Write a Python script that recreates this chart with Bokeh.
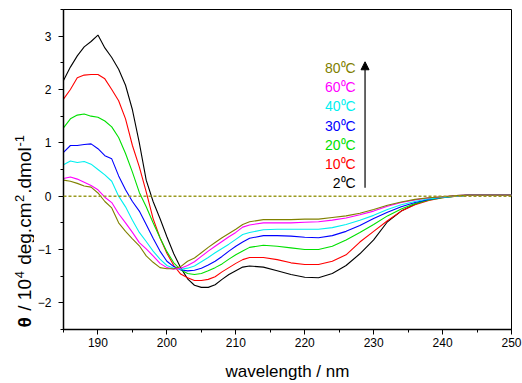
import numpy as np
from bokeh.plotting import figure
from bokeh.layouts import row
from bokeh.models import (ColumnDataSource, Span, Arrow, NormalHead,
                          SingleIntervalTicker, Range1d)
from bokeh.core.properties import value
from bokeh.embed import file_html
from bokeh.resources import INLINE

FONT = "Liberation Sans"

wavelength = [185, 186, 187, 188, 189, 190, 191, 192, 193, 194, 195, 196, 197, 198, 199,
              200, 201, 202, 203, 204, 205, 206, 207, 208, 209, 210, 211, 212, 214, 216,
              218, 220, 222, 224, 226, 228, 230, 232, 234, 236, 238, 240, 242, 244, 246,
              248, 250]

t2 = [2.17, 2.42, 2.63, 2.80, 2.90, 3.02, 2.78, 2.60, 2.38, 2.08, 1.62, 1.00, 0.30, -0.10, -0.42,
      -0.76, -1.08, -1.34, -1.55, -1.67, -1.71, -1.71, -1.66, -1.56, -1.47, -1.40, -1.33, -1.31, -1.33, -1.40,
      -1.47, -1.52, -1.53, -1.45, -1.30, -1.08, -0.82, -0.48, -0.28, -0.15, -0.06, -0.02, 0.01, 0.02, 0.02,
      0.02, 0.02]
t10 = [1.82, 2.00, 2.22, 2.27, 2.28, 2.28, 2.20, 2.00, 1.79, 1.45, 0.95, 0.55, 0.08, -0.42, -0.78,
       -1.07, -1.30, -1.46, -1.53, -1.58, -1.58, -1.56, -1.51, -1.42, -1.34, -1.26, -1.19, -1.15, -1.15, -1.19,
       -1.25, -1.28, -1.28, -1.22, -1.10, -0.86, -0.66, -0.46, -0.28, -0.16, -0.08, -0.03, 0.00, 0.02, 0.02,
       0.02, 0.02]
t20 = [1.28, 1.45, 1.52, 1.54, 1.50, 1.48, 1.41, 1.30, 1.10, 0.80, 0.45, 0.07, -0.20, -0.50, -0.78,
       -1.04, -1.25, -1.38, -1.45, -1.47, -1.45, -1.40, -1.34, -1.27, -1.18, -1.10, -1.03, -0.96, -0.92, -0.94,
       -0.97, -1.00, -1.00, -0.94, -0.82, -0.68, -0.53, -0.37, -0.24, -0.14, -0.07, -0.03, 0.00, 0.02, 0.02,
       0.02, 0.02]
t30 = [0.82, 0.95, 0.95, 0.97, 0.98, 0.89, 0.76, 0.70, 0.38, 0.12, -0.10, -0.28, -0.53, -0.79, -1.03,
       -1.22, -1.32, -1.38, -1.40, -1.39, -1.35, -1.29, -1.22, -1.13, -1.03, -0.94, -0.86, -0.79, -0.74, -0.74,
       -0.75, -0.77, -0.78, -0.74, -0.66, -0.55, -0.42, -0.30, -0.20, -0.12, -0.06, -0.02, 0.00, 0.02, 0.02,
       0.02, 0.02]
t40 = [0.59, 0.66, 0.63, 0.65, 0.60, 0.50, 0.40, 0.28, 0.00, -0.20, -0.45, -0.68, -0.85, -1.03, -1.18,
       -1.30, -1.35, -1.37, -1.35, -1.31, -1.23, -1.15, -1.06, -0.98, -0.90, -0.81, -0.72, -0.68, -0.63, -0.62,
       -0.62, -0.62, -0.62, -0.59, -0.53, -0.45, -0.36, -0.25, -0.16, -0.10, -0.05, -0.02, 0.00, 0.02, 0.02,
       0.02, 0.02]
t60 = [0.33, 0.36, 0.32, 0.26, 0.20, 0.12, -0.02, -0.12, -0.33, -0.50, -0.68, -0.87, -0.99, -1.12, -1.26,
       -1.34, -1.37, -1.35, -1.30, -1.23, -1.13, -1.03, -0.94, -0.85, -0.76, -0.68, -0.58, -0.54, -0.50, -0.50,
       -0.50, -0.49, -0.48, -0.45, -0.41, -0.35, -0.28, -0.19, -0.12, -0.07, -0.03, -0.01, 0.01, 0.02, 0.02,
       0.02, 0.02]
t80 = [0.30, 0.28, 0.24, 0.19, 0.17, 0.06, -0.10, -0.22, -0.50, -0.66, -0.80, -0.93, -1.12, -1.24, -1.34,
       -1.36, -1.36, -1.32, -1.22, -1.16, -1.06, -0.96, -0.87, -0.78, -0.70, -0.62, -0.53, -0.48, -0.44, -0.44,
       -0.44, -0.43, -0.43, -0.40, -0.37, -0.32, -0.25, -0.17, -0.11, -0.06, -0.03, -0.01, 0.01, 0.02, 0.02,
       0.02, 0.02]

series = [t2, t10, t20, t30, t40, t60, t80]
labels = ["2\u2070C", "10\u2070C", "20\u2070C", "30\u2070C", "40\u2070C", "60\u2070C", "80\u2070C"]
colors = ["#000000", "#FF0000", "#00E000", "#0000FF", "#00F0F0", "#FF00FF", "#808000"]

# y-axis title pieces: (text, is_superscript, is_bold); a leading space means a gap
ylabel_parts = [("\u03b8", False, True), (" / 10", False, False), ("4", True, False),
                (" deg.cm", False, False), ("2", True, False), (".dmol", False, False),
                ("-1", True, False)]
xlabel = "wavelength / nm"

LEFT_W = 34
p = figure(width=522 - LEFT_W, height=383, output_backend="svg", toolbar_location=None,
           x_range=Range1d(185, 250), y_range=Range1d(-2.5, 3.5),
           min_border_left=63 - LEFT_W, min_border_right=11, min_border_top=9, min_border_bottom=52)
p.background_fill_color = "white"
p.border_fill_color = "white"
p.outline_line_color = "black"
p.outline_line_width = 1
p.xgrid.visible = False
p.ygrid.visible = False

# zero line
p.add_layout(Span(location=0, dimension="width", line_color="#9A9A20",
                  line_dash="3 2", line_width=1.5))

for ys, c in zip(series, colors):
    p.line(wavelength, ys, line_color=c, line_width=1.1)

for ax in (p.xaxis[0], p.yaxis[0]):
    ax.axis_line_width = 1.5
    ax.axis_line_color = "black"
    ax.major_tick_line_color = "black"
    ax.minor_tick_line_color = "black"
    ax.major_tick_in = 0
    ax.major_tick_out = 5
    ax.minor_tick_in = 0
    ax.minor_tick_out = 3
    ax.major_label_text_font = FONT
    ax.major_label_text_font_size = "12px"
    ax.major_label_text_color = "black"

p.xaxis.ticker = SingleIntervalTicker(interval=10, num_minor_ticks=2)
p.yaxis.ticker = SingleIntervalTicker(interval=1, num_minor_ticks=2)
p.yaxis.major_label_standoff = 7
p.xaxis.major_label_standoff = 3

p.xaxis.axis_label = xlabel
p.xaxis.axis_label_text_font = FONT
p.xaxis.axis_label_text_font_size = "17px"
p.xaxis.axis_label_text_font_style = "normal"
p.xaxis.axis_label_text_color = "black"
p.xaxis.axis_label_standoff = 12

# legend texts
leg_y = [0.25 + i * 0.358 for i in range(len(labels))]
src = ColumnDataSource(dict(x=[227.4] * len(labels), y=leg_y, t=labels, c=colors))
p.text(x="x", y="y", text="t", text_color="c", source=src, text_align="right",
       text_baseline="middle", text_font=value(FONT), text_font_size="14px")

p.add_layout(Arrow(end=NormalHead(size=8, fill_color="black", line_color="black"),
                   x_start=228.75, y_start=0.16, x_end=228.75, y_end=2.52,
                   line_color="black", line_width=1.2))

# left strip holding the rotated y-axis title; its frame is aligned with p's frame
# (page rows 9..331), so the range is set up so that one unit = one page pixel.
lf = figure(width=LEFT_W, height=383, output_backend="svg", toolbar_location=None,
            x_range=Range1d(0, LEFT_W), y_range=Range1d(331, 9), title=None,
            x_axis_location=None, y_axis_location=None, min_border=0)
lf.outline_line_color = None
lf.xgrid.visible = False
lf.ygrid.visible = False
lf.background_fill_color = "white"
lf.border_fill_color = "white"

MAIN_PX, SUP_PX = 19, 13
# approximate advance widths (em) for Liberation Sans
adv = {" ": 0.278, "/": 0.278, "1": 0.556, "0": 0.556, "4": 0.556, "2": 0.556, "d": 0.556,
       "e": 0.556, "g": 0.556, ".": 0.278, "c": 0.5, "m": 0.833, "o": 0.556, "l": 0.222,
       "-": 0.333, "\u03b8": 0.61}
pos = 329.0
for txt, sup, bold in ylabel_parts:
    size = SUP_PX if sup else MAIN_PX
    if txt.startswith(" "):
        pos -= adv[" "] * MAIN_PX
        txt = txt[1:]
    w = sum(adv.get(ch, 0.55) for ch in txt) * size
    if sup:
        pos -= 1.0
    lf.text(x=[19 if sup else 24], y=[pos], text=[txt], angle=np.pi / 2, text_align="left",
            text_baseline="middle", text_font=value(FONT), text_font_size=f"{size}px",
            text_font_style="bold" if bold else "normal", text_color="black")
    pos -= w
    if sup:
        pos -= 1.0

layout = row(lf, p, spacing=0)
open("out.html", "w").write(file_html(layout, INLINE))
